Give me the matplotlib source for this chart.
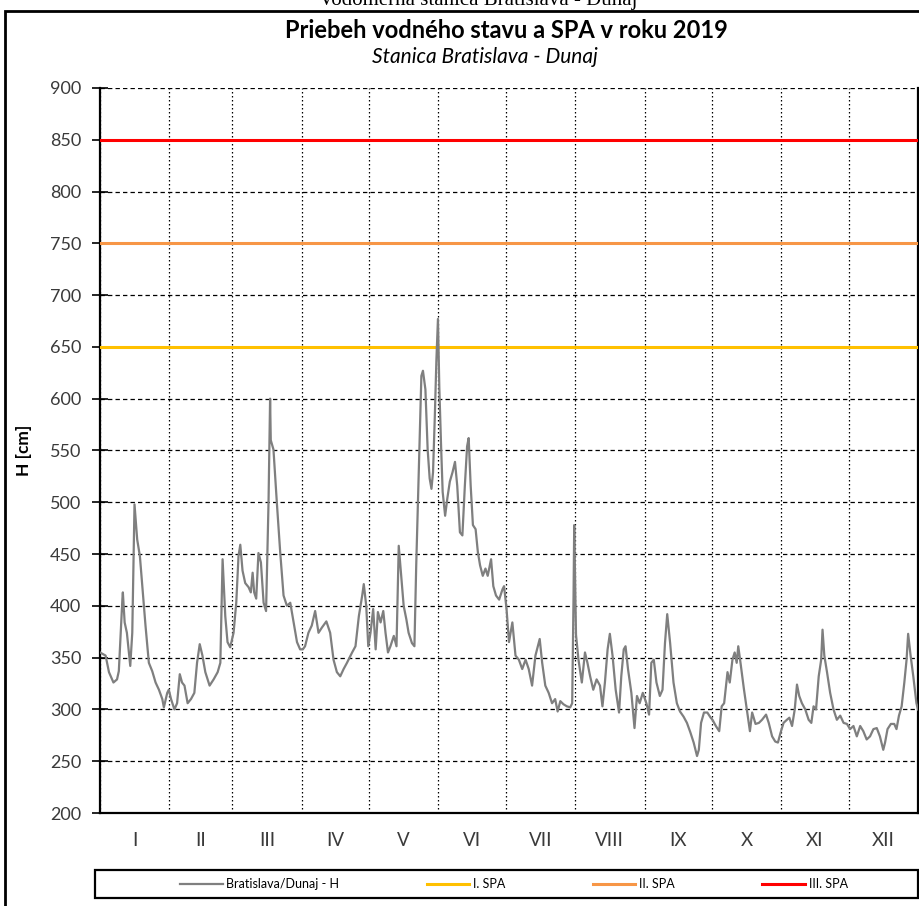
import matplotlib
matplotlib.use('Agg')
import matplotlib.pyplot as plt
from matplotlib.patches import Rectangle

plt.rcParams['font.family'] = ['Lato', 'DejaVu Sans']

# day of year (0 = 1 Jan) and water level H [cm]
days = [0, 2.5, 4, 6, 7.6, 8.4, 10, 10.2, 11, 12, 13, 13.5, 14.4, 15.4, 16.6, 17.8, 18.9,
        20.3, 21.8, 23.3, 24.8, 26.3, 27.8, 28.5, 30, 30.7, 31.7, 33.2, 34.4, 35.6, 36.6,
        37.7, 39.1, 40.6, 42.1, 43.3, 44.5, 45.7, 47, 48.9, 50.7, 52.5, 53.7, 54.7, 55.9,
        56.9, 58.1, 59.6, 60.8, 61.8, 62.6, 63.6, 64.8, 66.3, 67.3, 68.1, 68.8, 69.7, 70.7,
        71.8, 73, 74.1, 75.2, 75.9, 76.2, 77.4, 78.9, 80.4, 81.9, 83.4, 84.9, 86.4, 87.9,
        89.3, 90.5, 91.5, 93, 94.5, 96, 97.5, 99, 101, 102.7, 104.2, 105.7, 107.2, 108.7,
        110.2, 112.5, 114, 115.5, 117, 117.7, 118.8, 119.7, 120.7, 121.9, 123, 124, 125.2,
        126.4, 127.4, 128.5, 129.6, 131.1, 132.3, 133.3, 134.3, 135.5, 136.7, 137.7, 139.2,
        140.3, 141.1, 141.9, 142.6, 143.4, 144.1, 145.2, 146.2, 147.1, 147.9, 148.6, 149.4,
        150.1, 150.8, 151.4, 152.2, 152.9, 154, 155, 156.1, 157.3, 158.4, 159.4, 160.6,
        161.7, 162.8, 163.8, 164.5, 165.4, 166.4, 167.6, 168.6, 169.6, 170.8, 172, 173,
        174.5, 175.5, 176.7, 178.1, 179.6, 180.3, 181.4, 182.5, 184, 185.4, 186.9, 188.4,
        189.9, 191.3, 192.8, 194.3, 196.2, 197.3, 198.7, 200.2, 201.7, 203.1, 204.2, 205.4,
        206.8, 208.3, 209.8, 210.7, 211.3, 211.6, 212.4, 213.5, 215, 216.4, 217.5, 218.7,
        220.1, 221.6, 223.1, 224.2, 225.3, 226.5, 227.5, 228.7, 230.1, 231.6, 232.6, 233.7,
        234.5, 235.6, 237.1, 238.5, 239.6, 240.8, 242.2, 243.8, 245, 246, 247.1, 248.3,
        249.8, 251, 252.1, 253.1, 254.4, 255.9, 257.4, 258.8, 260.4, 261.9, 263.4, 264.9,
        266.4, 267.2, 268.2, 269.5, 271, 272.5, 273.3, 274.8, 276.3, 277.4, 278.5, 280, 281,
        282.2, 283.2, 284.1, 284.8, 285.8, 287.3, 288.8, 290, 291, 292.5, 294, 295.4, 297.2,
        298.4, 299.9, 301.3, 302.5, 303.6, 305, 306.5, 307.6, 308.8, 310, 311, 312, 313.2,
        314.7, 316.2, 317.4, 318.4, 319.5, 320.7, 321.8, 322.4, 323.2, 324.4, 325.8, 327.3,
        328.8, 330.3, 331.8, 333.3, 334.7, 336.2, 337.7, 339.2, 340.6, 342.1, 343.6, 345.1,
        346.6, 348, 349.5, 350.3, 351.4, 352.9, 354.4, 355.4, 356.5, 357.7, 358.9, 359.9,
        360.6, 361.7, 362.9, 364.3, 365]
level = [355, 352, 336, 326, 329, 337, 407, 413, 384, 374, 352, 342, 374, 498, 464, 448, 419,
         381, 345, 337, 326, 319, 310, 302, 316, 319, 310, 300, 306, 334, 326,
         323, 306, 310, 316, 345, 363, 352, 336, 323, 329, 336, 345, 445, 390,
         365, 360, 374, 403, 448, 459, 434, 422, 418, 413, 432, 413, 407, 451,
         442, 403, 395, 500, 600, 560, 551, 500, 452, 410, 400, 403, 384, 365,
         358, 358, 361, 374, 381, 395, 374, 379, 385, 374, 348, 336, 332, 339,
         345, 355, 361, 390, 410, 421, 400, 361, 374, 397, 358, 394, 384,
         395, 374, 355, 361, 371, 361, 458, 432, 400, 387, 374, 364,
         361, 439, 503, 558, 622, 627, 609, 551, 523, 513, 529, 583,
         637, 677, 611, 554, 510, 487, 504, 520, 529, 539, 516, 471,
         468, 516, 554, 562, 516, 478, 474, 452, 439, 429, 436, 429,
         445, 419, 410, 406, 416, 419, 397, 365, 384, 352, 348, 339,
         348, 339, 323, 352, 368, 345, 323, 316, 306, 310, 298, 308,
         305, 303, 302, 306, 409, 478, 372, 348, 326, 355, 345, 332,
         319, 329, 323, 303, 326, 358, 373, 352, 319, 297, 332, 358,
         361, 339, 316, 282, 313, 306, 316, 306, 295, 345, 348, 326,
         313, 319, 364, 392, 364, 326, 306, 298, 293, 287, 278, 268,
         255, 261, 287, 297, 297, 292, 290, 284, 279, 303, 306, 336, 326,
         348, 355, 345, 361, 345, 320, 297, 279, 297, 286, 287, 290, 295,
         287, 274, 269, 268, 277, 287, 290, 292, 284, 300, 324, 313, 306,
         300, 290, 287, 303, 300, 332, 348, 377, 352, 336, 316, 300,
         290, 294, 287, 286, 281, 284, 274, 284, 279, 271, 274, 281,
         282, 274, 261, 268, 281, 286, 286, 281, 294, 303, 326, 348,
         373, 352, 332, 306, 300]

# flood warning levels (stupne povodňovej aktivity)
spa_names = ['I. SPA', 'II. SPA', 'III. SPA']
spa_levels = [650, 750, 850]
spa_colors = ['#FFC000', '#F79646', '#FF0000']

month_starts = [0, 31, 59, 90, 120, 151, 181, 212, 243, 273, 304, 334, 365]
month_labels = ['I', 'II', 'III', 'IV', 'V', 'VI', 'VII', 'VIII', 'IX', 'X', 'XI', 'XII']

fig = plt.figure(figsize=(9.2, 9.06), dpi=100)
ax = fig.add_axes([100/920, 1 - 813/906, 818/920, 725/906])

lines = []
l, = ax.plot(days, level, color='#7F7F7F', lw=1.6, label='Bratislava/Dunaj - H', zorder=4)
lines.append(l)
for name, val, c in zip(spa_names, spa_levels, spa_colors):
    l = ax.axhline(val, color=c, lw=2.2, label=name, zorder=3)
    lines.append(l)

ax.set_xlim(0, 365)
ax.set_ylim(200, 900)
ax.set_yticks(range(200, 901, 50))
ax.tick_params(axis='y', direction='inout', length=11, width=1.2, labelsize=13,
               labelcolor='#3a3a3a', pad=8)

# month boundaries as major ticks (grid), month names as minor ticks
ax.set_xticks(month_starts)
ax.set_xticklabels([])
mids = [(month_starts[i] + month_starts[i+1]) / 2 for i in range(12)]
ax.set_xticks(mids, minor=True)
ax.set_xticklabels(month_labels, minor=True)
ax.tick_params(axis='x', which='both', length=0)
ax.tick_params(axis='x', which='minor', labelsize=13.5, labelcolor='#3a3a3a', pad=14)

ax.grid(axis='y', color='black', lw=0.9, linestyle=(0, (3.5, 2.5)))
ax.grid(axis='x', color='black', lw=0.9, linestyle=(0, (1.2, 2)))
for s in ['left', 'bottom', 'right']:
    ax.spines[s].set_linewidth(1.6)
ax.spines['top'].set_visible(False)

ax.set_ylabel('H [cm]', fontsize=12.5, fontweight='bold')
ax.yaxis.set_label_coords(-0.083, 0.5)

fig.text(506/920, 1 - 30/906, 'Priebeh vodného stavu a SPA v roku 2019', ha='center', va='center',
         fontsize=17, fontweight='bold')
fig.text(485/920, 1 - 57/906, 'Stanica Bratislava - Dunaj', ha='center', va='center',
         fontsize=15, style='italic')
# title of the page above the chart, cut off by the top edge
fig.text(478/920, 1 - 5/906, 'Vodomerná stanica Bratislava - Dunaj', ha='center', va='baseline',
         fontsize=15, family=['Liberation Serif'])

# outer frame and legend frame
fig.patches.append(Rectangle((5/920, -0.01), 1.0, 1 - 11/906 + 0.01, transform=fig.transFigure,
                             fill=False, lw=2, edgecolor='black'))
fig.patches.append(Rectangle((95/920, 1 - 898/906), 823/920, 28/906, transform=fig.transFigure,
                             fill=False, lw=1.6, edgecolor='black'))
fig.legend(handles=lines, loc='center', bbox_to_anchor=(514/920, 1 - 884/906), ncol=4,
           frameon=False, fontsize=9, handlelength=3.4, handletextpad=0.3, columnspacing=7.0)

fig.savefig('out.png', dpi=100)
